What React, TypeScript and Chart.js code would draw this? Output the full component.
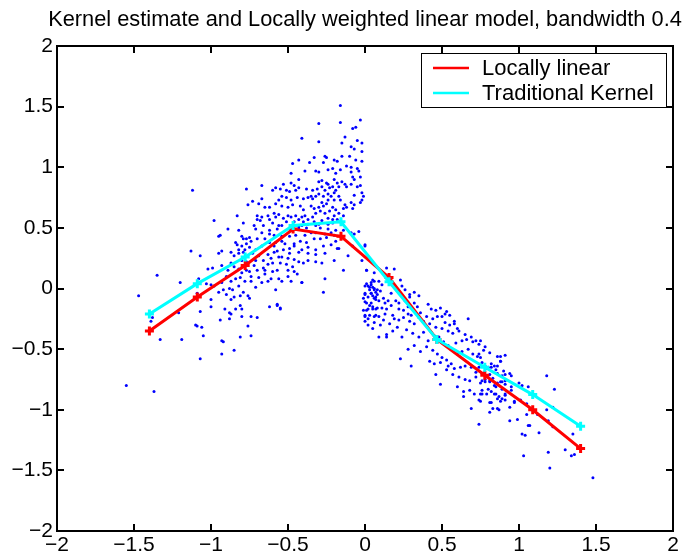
import React, { useEffect, useRef } from "react";
import { Chart, registerables } from "chart.js";

Chart.register(...registerables);

const TITLE = "Kernel estimate and Locally weighted linear model, bandwidth 0.4";
const SERIES_NAMES = ["Locally linear", "Traditional Kernel"];
const SERIES_COLORS = ["#ff0000", "#00ffff"];
const DOT_COLOR = "#0000ff";

const xTicks = [-2, -1.5, -1, -0.5, 0, 0.5, 1, 1.5, 2];
const yTicks = [-2, -1.5, -1, -0.5, 0, 0.5, 1, 1.5, 2];

// evaluation grid of the two fits
const gridX = [-1.4, -1.089, -0.778, -0.467, -0.156, 0.156, 0.467, 0.778, 1.089, 1.4];
const locallyLinear = [-0.35, -0.07, 0.19, 0.49, 0.43, 0.09, -0.42, -0.715, -1.0, -1.32];
const traditionalKernel = [-0.21, 0.04, 0.26, 0.52, 0.55, 0.056, -0.42, -0.65, -0.875, -1.136];

// observed sample, left branch (x < 0)
const leftClusterPoints: [number, number][] = [
  [-1.12, 0.81], [-0.77, 0.82], [-0.76, 0.69], [-0.98, 0.56], [-0.83, 0.6], [-0.79, 0.54], [-0.89, 0.49], [-0.82, 0.48],
  [-0.94, 0.44], [-0.95, 0.43], [-0.8, 0.43], [-0.79, 0.41], [-0.77, 0.41], [-0.84, 0.38], [-0.83, 0.36], [-0.8, 0.35],
  [-0.77, 0.37], [-1.13, 0.31], [-1.07, 0.27], [-0.95, 0.29], [-0.93, 0.31], [-0.87, 0.3], [-0.85, 0.27], [-0.82, 0.29],
  [-0.79, 0.3], [-0.78, 0.32], [-0.8, 0.23], [-0.87, 0.21], [-0.93, 0.19], [-0.99, 0.17], [-1.02, 0.16], [-0.89, 0.15],
  [-0.85, 0.18], [-0.82, 0.16], [-0.8, 0.13], [-0.77, 0.15], [-1.35, 0.11], [-1.2, 0.05], [-1.08, 0.08], [-1.03, 0.04],
  [-1.0, 0.03], [-0.98, 0.02], [-0.93, 0.05], [-0.9, 0.1], [-0.87, 0.06], [-0.84, 0.08], [-0.81, 0.09], [-0.78, 0.06],
  [-0.92, -0.01], [-0.88, 0.0], [-0.86, -0.01], [-0.82, 0.02], [-1.47, -0.06], [-1.09, -0.04], [-1.0, -0.09], [-0.95, -0.03],
  [-0.9, -0.05], [-0.87, -0.09], [-0.85, -0.07], [-0.81, -0.06], [-0.79, -0.03], [-0.76, -0.06], [-1.0, -0.15], [-0.91, -0.17],
  [-0.88, -0.2], [-0.87, -0.21], [-0.84, -0.17], [-0.81, -0.14], [-0.8, -0.17], [-1.39, -0.27], [-1.38, -0.24], [-1.21, -0.2],
  [-1.07, -0.19], [-0.94, -0.26], [-0.88, -0.25], [-0.8, -0.23], [-0.76, -0.31], [-1.1, -0.3], [-1.06, -0.32], [-1.09, -0.31],
  [-1.05, -0.39], [-1.19, -0.42], [-1.33, -0.42], [-0.93, -0.43], [-0.92, -0.44], [-0.81, -0.4], [-1.07, -0.58], [-0.93, -0.54],
  [-0.85, -0.51], [-1.55, -0.8], [-1.37, -0.85], [-0.74, -0.39], [-0.57, -0.14], [-0.55, -0.16], [-0.41, 0.05], [-0.04, 0.47],
  [-0.11, 0.27], [-0.17, 0.33], [0.0, 0.36],
  [-0.16, 1.51], [-0.3, 1.36], [-0.16, 1.37], [-0.03, 1.39], [-0.08, 1.32], [-0.06, 1.33], [-0.41, 1.24], [-0.3, 1.21],
  [-0.13, 1.25], [-0.05, 1.22], [-0.15, 1.2], [-0.02, 1.2], [-0.09, 1.17], [-0.07, 1.15], [-0.02, 1.13], [-0.26, 1.09],
  [-0.25, 1.08], [-0.33, 1.08], [-0.43, 1.06], [-0.47, 1.03], [-0.36, 1.04], [-0.27, 1.04], [-0.2, 1.06], [-0.18, 1.05],
  [-0.15, 1.09], [-0.1, 1.09], [-0.06, 1.06], [-0.02, 1.05], [-0.12, 1.01], [-0.09, 1.0], [-0.05, 0.99], [-0.04, 0.97],
  [-0.39, 0.97], [-0.32, 0.97], [-0.3, 0.96], [-0.48, 0.95], [-0.24, 0.98], [-0.21, 0.99], [-0.19, 0.95], [-0.16, 0.98],
  [-0.09, 0.96], [-0.08, 0.92], [-0.07, 0.9], [-0.03, 0.92], [-0.43, 0.9], [-0.3, 0.88], [-0.28, 0.89], [-0.25, 0.87],
  [-0.24, 0.86], [-0.2, 0.9], [-0.18, 0.87], [-0.17, 0.84], [-0.15, 0.88], [-0.13, 0.86], [-0.12, 0.84], [-0.09, 0.86],
  [-0.05, 0.84], [-0.03, 0.85], [-0.53, 0.86], [-0.48, 0.87], [-0.46, 0.85], [-0.55, 0.82], [-0.58, 0.83], [-0.67, 0.85],
  [-0.6, 0.81], [-0.51, 0.81], [-0.49, 0.8], [-0.45, 0.81], [-0.43, 0.83], [-0.38, 0.82], [-0.34, 0.81], [-0.31, 0.82],
  [-0.28, 0.84], [-0.26, 0.81], [-0.23, 0.83], [-0.21, 0.84], [-0.19, 0.81], [-0.35, 0.76], [-0.32, 0.76], [-0.3, 0.78],
  [-0.27, 0.76], [-0.24, 0.78], [-0.22, 0.76], [-0.2, 0.79], [-0.17, 0.76], [-0.07, 0.77], [-0.02, 0.79], [-0.01, 0.76],
  [-0.73, 0.72], [-0.67, 0.74], [-0.56, 0.73], [-0.54, 0.76], [-0.51, 0.75], [-0.48, 0.73], [-0.44, 0.75], [-0.4, 0.74],
  [-0.37, 0.75], [-0.34, 0.74], [-0.28, 0.71], [-0.25, 0.7], [-0.24, 0.73], [-0.2, 0.73], [-0.16, 0.73], [-0.13, 0.69],
  [-0.09, 0.71], [-0.07, 0.69], [-0.03, 0.71], [-0.02, 0.73], [-0.69, 0.7], [-0.65, 0.67], [-0.62, 0.67], [-0.58, 0.7],
  [-0.54, 0.68], [-0.5, 0.67], [-0.47, 0.69], [-0.42, 0.68], [-0.4, 0.65], [-0.35, 0.68], [-0.33, 0.66], [-0.3, 0.67],
  [-0.27, 0.68], [-0.21, 0.67], [-0.19, 0.65], [-0.14, 0.66], [-0.12, 0.67], [-0.08, 0.66], [-0.7, 0.6], [-0.67, 0.59],
  [-0.63, 0.6], [-0.59, 0.62], [-0.56, 0.61], [-0.53, 0.58], [-0.5, 0.6], [-0.48, 0.59], [-0.45, 0.6], [-0.41, 0.59],
  [-0.39, 0.6], [-0.37, 0.57], [-0.34, 0.59], [-0.32, 0.62], [-0.29, 0.64], [-0.26, 0.62], [-0.23, 0.64], [-0.2, 0.6],
  [-0.17, 0.62], [-0.14, 0.6], [-0.7, 0.57], [-0.68, 0.56], [-0.62, 0.57], [-0.58, 0.59], [-0.43, 0.57], [-0.4, 0.55],
  [-0.37, 0.53], [-0.33, 0.55], [-0.28, 0.56], [-0.24, 0.58], [-0.21, 0.57], [-0.18, 0.57], [-0.72, 0.52], [-0.66, 0.52],
  [-0.6, 0.54], [-0.56, 0.52], [-0.54, 0.52], [-0.51, 0.55], [-0.46, 0.55], [-0.43, 0.51], [-0.41, 0.52], [-0.32, 0.52],
  [-0.3, 0.53], [-0.24, 0.53], [-0.21, 0.54], [-0.71, 0.49], [-0.62, 0.48], [-0.57, 0.49], [-0.48, 0.48], [-0.43, 0.49],
  [-0.38, 0.5], [-0.29, 0.5], [-0.24, 0.49], [-0.19, 0.48], [-0.14, 0.48], [-0.75, 0.42], [-0.67, 0.46], [-0.62, 0.45],
  [-0.59, 0.44], [-0.54, 0.43], [-0.49, 0.43], [-0.45, 0.44], [-0.39, 0.44], [-0.35, 0.46], [-0.32, 0.46], [-0.26, 0.45],
  [-0.22, 0.46], [-0.2, 0.44], [-0.09, 0.46], [-0.07, 0.45], [-0.74, 0.39], [-0.7, 0.41], [-0.65, 0.41], [-0.62, 0.38],
  [-0.58, 0.38], [-0.54, 0.39], [-0.52, 0.37], [-0.46, 0.37], [-0.42, 0.39], [-0.38, 0.38], [-0.33, 0.41], [-0.29, 0.41],
  [-0.25, 0.42], [-0.19, 0.39], [-0.82, 0.32], [-0.75, 0.34], [-0.71, 0.32], [-0.67, 0.35], [-0.59, 0.35], [-0.57, 0.31],
  [-0.53, 0.32], [-0.49, 0.33], [-0.46, 0.35], [-0.41, 0.32], [-0.37, 0.34], [-0.32, 0.32], [-0.27, 0.35], [-0.22, 0.36],
  [-0.18, 0.33], [-0.08, 0.35], [0.0, 0.35], [-0.73, 0.29], [-0.69, 0.27], [-0.63, 0.28], [-0.59, 0.3], [-0.54, 0.26],
  [-0.49, 0.29], [-0.43, 0.3], [-0.37, 0.29], [-0.32, 0.28], [-0.26, 0.29], [-0.77, 0.22], [-0.71, 0.23], [-0.66, 0.23],
  [-0.61, 0.25], [-0.56, 0.26], [-0.5, 0.25], [-0.46, 0.24], [-0.43, 0.22], [-0.37, 0.23], [-0.32, 0.22], [-0.28, 0.21],
  [-0.2, 0.23], [-0.72, 0.19], [-0.66, 0.17], [-0.63, 0.2], [-0.6, 0.21], [-0.55, 0.21], [-0.51, 0.2], [-0.47, 0.18],
  [-0.4, 0.21], [-0.75, 0.14], [-0.7, 0.15], [-0.65, 0.15], [-0.6, 0.14], [-0.57, 0.15], [-0.5, 0.15], [-0.46, 0.14],
  [-0.14, 0.15], [-0.74, 0.1], [-0.69, 0.09], [-0.65, 0.12], [-0.61, 0.08], [-0.56, 0.08], [-0.5, 0.1], [-0.44, 0.12],
  [-0.74, 0.06], [-0.67, 0.05], [-0.63, 0.06], [-0.54, 0.06], [-0.48, 0.06], [-0.41, 0.05], [-0.26, 0.08], [-0.71, 0.01],
  [-0.58, -0.01], [-0.27, -0.03], [-0.75, -0.08], [-0.62, -0.15], [-0.57, -0.13], [-0.55, -0.17], [-0.74, -0.23], [-0.7, -0.24],
];

// observed sample, right branch (x >= 0)
const rightClusterPoints: [number, number][] = [
  [0.01, 0.15], [0.05, 0.07], [0.04, 0.05], [0.06, 0.06], [0.0, 0.02], [0.03, 0.01], [0.06, 0.0], [0.08, -0.01],
  [0.0, -0.05], [0.04, -0.04], [0.07, -0.07], [0.0, -0.11], [0.04, -0.12], [0.07, -0.09], [0.01, -0.18], [0.05, -0.15],
  [0.07, -0.17], [0.0, -0.23], [0.02, -0.25], [0.06, -0.23],
  [-0.02, 0.23], [0.01, 0.15], [0.06, 0.13], [0.14, 0.17], [0.19, 0.16], [0.09, 0.06], [0.01, 0.04], [0.02, 0.02],
  [0.04, 0.03], [0.05, 0.01], [0.03, -0.01], [0.06, -0.01], [0.0, -0.04], [0.04, -0.04], [0.07, -0.03], [-0.01, -0.08],
  [0.02, -0.07], [0.06, -0.08], [0.09, -0.1], [0.12, -0.08], [0.17, -0.04], [0.23, 0.07], [0.24, 0.02], [0.26, -0.01],
  [0.29, -0.05], [0.32, -0.03], [0.35, -0.06], [0.2, -0.1], [0.22, -0.12], [0.26, -0.1], [0.29, -0.07], [0.32, -0.12],
  [0.28, -0.15], [0.34, -0.15], [0.36, -0.2], [0.41, -0.13], [0.43, -0.17], [0.46, -0.18], [0.49, -0.16], [0.52, -0.21],
  [0.5, -0.23], [0.53, -0.19], [0.55, -0.22], [0.58, -0.27], [0.6, -0.33], [0.67, -0.25], [-0.01, -0.18], [0.02, -0.17],
  [0.05, -0.17], [0.08, -0.16], [0.11, -0.16], [0.14, -0.17], [0.17, -0.14], [0.22, -0.17], [0.25, -0.18], [0.28, -0.21],
  [0.3, -0.22], [0.35, -0.24], [0.4, -0.23], [0.44, -0.25], [0.47, -0.23], [0.52, -0.28], [0.55, -0.3], [0.58, -0.29],
  [0.0, -0.22], [0.03, -0.22], [0.07, -0.22], [0.09, -0.23], [0.13, -0.21], [0.18, -0.22], [0.22, -0.26], [0.25, -0.24],
  [0.29, -0.27], [0.32, -0.29], [0.38, -0.27], [0.42, -0.29], [0.46, -0.32], [0.5, -0.33], [0.54, -0.35], [0.57, -0.37],
  [0.61, -0.35], [0.65, -0.38], [0.69, -0.4], [0.72, -0.43], [0.75, -0.43], [0.0, -0.27], [0.05, -0.33], [0.09, -0.4],
  [0.14, -0.4], [0.18, -0.35], [0.21, -0.32], [0.24, -0.4], [0.27, -0.34], [0.31, -0.37], [0.35, -0.4], [0.38, -0.36],
  [0.41, -0.43], [0.45, -0.39], [0.48, -0.4], [0.51, -0.44], [0.54, -0.47], [0.59, -0.45], [0.63, -0.43], [0.66, -0.42],
  [0.7, -0.44], [0.74, -0.46], [0.78, -0.48], [0.23, -0.58], [0.3, -0.64], [0.28, -0.5], [0.32, -0.47], [0.36, -0.52],
  [0.4, -0.48], [0.44, -0.51], [0.47, -0.54], [0.5, -0.57], [0.53, -0.59], [0.56, -0.62], [0.6, -0.54], [0.63, -0.52],
  [0.67, -0.5], [0.7, -0.54], [0.73, -0.56], [0.77, -0.51], [0.81, -0.53], [0.86, -0.56], [0.88, -0.6], [0.91, -0.55],
  [0.42, -0.6], [0.45, -0.62], [0.49, -0.61], [0.54, -0.64], [0.58, -0.66], [0.62, -0.65], [0.65, -0.64], [0.69, -0.65],
  [0.72, -0.69], [0.76, -0.7], [0.79, -0.66], [0.82, -0.65], [0.86, -0.64], [0.9, -0.68], [0.46, -0.71], [0.49, -0.79],
  [0.53, -0.67], [0.57, -0.71], [0.61, -0.73], [0.65, -0.75], [0.68, -0.76], [0.72, -0.73], [0.75, -0.78], [0.78, -0.77],
  [0.81, -0.76], [0.85, -0.81], [0.88, -0.77], [0.91, -0.76], [0.6, -0.81], [0.64, -0.85], [0.68, -0.84], [0.71, -0.87],
  [0.76, -0.87], [0.8, -0.83], [0.84, -0.87], [0.89, -0.83], [0.91, -0.88], [0.64, -0.89], [0.74, -0.92], [0.82, -0.94],
  [0.86, -0.91], [0.88, -0.93], [0.91, -0.92], [0.69, -0.99], [0.81, -1.02], [0.86, -0.99],
  [0.01, -0.12], [0.03, -0.14], [0.05, -0.06], [0.08, -0.05], [0.1, -0.02], [0.11, 0.03], [0.13, -0.12], [0.15, -0.1],
  [0.02, -0.3], [0.06, -0.28], [0.1, -0.3], [0.12, -0.26], [0.16, -0.29], [0.19, -0.25],
  [0.74, -0.54], [0.75, -0.57], [0.76, -0.61], [0.74, -0.65], [0.78, -0.64], [0.8, -0.65], [0.82, -0.62], [0.84, -0.64],
  [0.85, -0.67], [0.88, -0.56], [0.88, -0.6], [0.77, -0.7], [0.79, -0.72], [0.81, -0.71], [0.83, -0.74], [0.86, -0.7],
  [0.89, -0.72], [0.91, -0.71], [0.94, -0.7], [0.95, -0.72], [0.76, -0.76], [0.78, -0.75], [0.81, -0.77], [0.84, -0.8],
  [0.86, -0.78], [0.89, -0.77], [0.91, -0.79], [0.95, -0.81], [1.0, -0.78], [1.02, -0.8], [1.06, -0.81], [0.75, -0.87],
  [0.76, -0.84], [0.79, -0.87], [0.82, -0.85], [0.85, -0.87], [0.87, -0.89], [0.89, -0.91], [0.91, -0.87], [0.95, -0.84],
  [0.97, -0.94], [1.01, -0.92], [0.75, -0.93], [0.81, -0.94], [0.83, -0.99], [0.87, -1.0], [0.94, -0.98], [0.97, -0.93],
  [1.05, -0.95], [1.08, -1.0], [1.12, -1.04], [1.05, -1.04], [1.18, -0.72], [1.23, -0.83], [1.19, -1.09], [1.18, -1.0],
  [1.22, -0.98], [0.74, -1.12], [0.94, -1.09], [0.99, -1.08], [1.06, -1.13], [1.07, -1.13], [1.04, -1.21], [1.13, -1.19],
  [1.22, -1.14], [1.35, -1.2], [1.03, -1.38], [1.19, -1.35], [1.2, -1.48], [1.3, -1.33], [1.34, -1.38], [1.36, -1.37],
  [1.48, -1.56], [0.14, -0.38], [1.02, -1.2],
];

const FONT = '"Liberation Sans", Arial, Helvetica, sans-serif';

const fmt = (v: number) => String(Number(v.toFixed(2))).replace("-", "\u2212");

const framePlugin = {
  id: "matlabFrame",
  afterDraw(chart: any) {
    const { ctx, chartArea: a, scales } = chart;
    ctx.save();
    ctx.globalAlpha = 1;
    ctx.globalCompositeOperation = "source-over";
    ctx.fillStyle = "#000";
    const L = Math.round(a.left);
    const R = Math.round(a.right);
    const T = Math.round(a.top);
    const B = Math.round(a.bottom);
    // box (all four sides)
    ctx.fillRect(L - 1, T - 1, 2, B - T + 2);
    ctx.fillRect(L - 1, B - 1, R - L + 2, 2);
    ctx.fillRect(L - 1, T - 1, R - L + 2, 2);
    ctx.fillRect(R - 1, T - 1, 2, B - T + 2);
    // inward tick marks on all four sides
    const tl = 7;
    const tw = 2;
    xTicks.slice(1, -1).forEach((v) => {
      const px = Math.round(scales.x.getPixelForValue(v));
      ctx.fillRect(px - 1, B - tl, tw, tl);
      ctx.fillRect(px - 1, T, tw, tl);
    });
    yTicks.slice(1, -1).forEach((v) => {
      const py = Math.round(scales.y.getPixelForValue(v));
      ctx.fillRect(L, py - 1, tl, tw);
      ctx.fillRect(R - tl, py - 1, tl, tw);
    });

    // title
    ctx.font = `21.8px ${FONT}`;
    ctx.textAlign = "center";
    ctx.textBaseline = "middle";
    ctx.fillText(TITLE, (a.left + a.right) / 2, 20);

    // legend
    const bx = Math.round(a.right - 252.5);
    const by = Math.round(a.top + 6.6);
    const bw = 245;
    const bh = 54;
    ctx.fillStyle = "#fff";
    ctx.fillRect(bx, by, bw, bh);
    ctx.fillStyle = "#000";
    ctx.fillRect(bx, by, bw, 1);
    ctx.fillRect(bx, by + bh, bw + 1, 1);
    ctx.fillRect(bx, by, 1, bh);
    ctx.fillRect(bx + bw, by, 1, bh);
    ctx.font = `22px ${FONT}`;
    ctx.textAlign = "left";
    ctx.textBaseline = "middle";
    SERIES_NAMES.forEach((name, i) => {
      const ly = by + 15 + i * 25;
      ctx.fillStyle = SERIES_COLORS[i];
      ctx.fillRect(bx + 12, ly - 1.25, 36, 2.5);
      ctx.fillStyle = "#000";
      ctx.fillText(name, bx + 61, ly + 1);
    });
    ctx.restore();
  },
};

export default function App() {
  const canvasRef = useRef<HTMLCanvasElement | null>(null);

  useEffect(() => {
    const canvas = canvasRef.current;
    if (!canvas) return;
    const samples = leftClusterPoints.concat(rightClusterPoints).map(([x, y]) => ({ x, y }));
    const redData = gridX.map((x, i) => ({ x, y: locallyLinear[i] }));
    const cyanData = gridX.map((x, i) => ({ x, y: traditionalKernel[i] }));

    const chart = new Chart(canvas, {
      type: "scatter",
      data: {
        datasets: [
          {
            label: SERIES_NAMES[1],
            data: cyanData,
            showLine: true,
            borderColor: SERIES_COLORS[1],
            backgroundColor: SERIES_COLORS[1],
            borderWidth: 3,
            pointStyle: "cross",
            pointRadius: 4.5,
            pointBorderWidth: 3,
            pointBorderColor: SERIES_COLORS[1],
            order: 0,
          },
          {
            label: SERIES_NAMES[0],
            data: redData,
            showLine: true,
            borderColor: SERIES_COLORS[0],
            backgroundColor: SERIES_COLORS[0],
            borderWidth: 3,
            pointStyle: "cross",
            pointRadius: 4.5,
            pointBorderWidth: 3,
            pointBorderColor: SERIES_COLORS[0],
            order: 1,
          },
          {
            label: "data",
            data: samples,
            showLine: false,
            backgroundColor: DOT_COLOR,
            borderColor: DOT_COLOR,
            pointRadius: 1.5,
            pointBorderWidth: 0,
            order: 2,
          },
        ],
      },
      options: {
        animation: false,
        responsive: false,
        devicePixelRatio: 1,
        events: [],
        layout: { padding: { left: 0, right: 16, top: 46, bottom: 0 } },
        plugins: {
          legend: { display: false },
          title: { display: false },
          tooltip: { enabled: false },
        },
        scales: {
          x: {
            type: "linear",
            min: -2,
            max: 2,
            grid: { display: false, drawTicks: false },
            border: { display: false },
            ticks: {
              stepSize: 0.5,
              autoSkip: false,
              maxRotation: 0,
              padding: 2,
              color: "#000",
              font: { size: 21, family: FONT },
              callback: (v: any) => fmt(Number(v)),
            },
            afterFit: (s: any) => {
              s.height = 27;
            },
          },
          y: {
            type: "linear",
            min: -2,
            max: 2,
            grid: { display: false, drawTicks: false },
            border: { display: false },
            ticks: {
              stepSize: 0.5,
              autoSkip: false,
              padding: 4,
              color: "#000",
              font: { size: 21, family: FONT },
              callback: (v: any) => fmt(Number(v)),
            },
            afterFit: (s: any) => {
              s.width = 57;
            },
          },
        },
      },
      plugins: [framePlugin],
    });
    return () => chart.destroy();
  }, []);

  return (
    <div style={{ position: "absolute", left: 0, top: 0, width: 689, height: 558, background: "#fff" }}>
      <canvas ref={canvasRef} width={689} height={558} style={{ display: "block" }} />
    </div>
  );
}
